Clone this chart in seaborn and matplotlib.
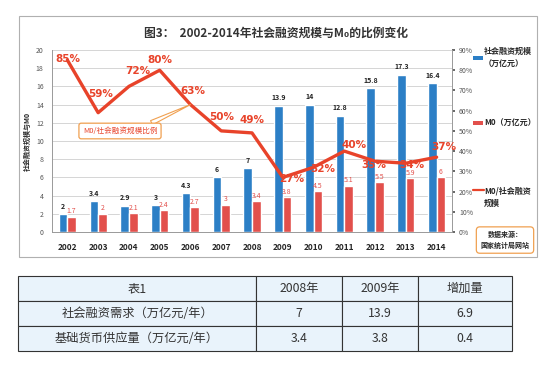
import numpy as np
import pandas as pd
import seaborn as sns
import matplotlib.pyplot as plt
from matplotlib.patches import Rectangle

years = ["2002", "2003", "2004", "2005", "2006", "2007", "2008",
         "2009", "2010", "2011", "2012", "2013", "2014"]
financing = [2, 3.4, 2.9, 3, 4.3, 6, 7, 13.9, 14, 12.8, 15.8, 17.3, 16.4]
m0 = [1.7, 2, 2.1, 2.4, 2.7, 3, 3.4, 3.8, 4.5, 5.1, 5.5, 5.9, 6]
ratio = [85, 59, 72, 80, 63, 50, 49, 27, 32, 40, 35, 34, 37]

series_names = ["社会融资规模（万亿元）", "M0（万亿元）"]
table_header = ["表1", "2008年", "2009年", "增加量"]
table_rows = [["社会融资需求（万亿元/年）", "7", "13.9", "6.9"],
              ["基础货币供应量（万亿元/年）", "3.4", "3.8", "0.4"]]

BLUE = "#2c7fc6"
RED = "#e2504c"
LINE = "#e8432a"
ORANGE = "#f0a050"

sns.set_theme(style="white")
plt.rcParams["font.family"] = ["Noto Sans CJK SC", "DejaVu Sans"]

W, H = 550, 372
fig = plt.figure(figsize=(5.5, 3.72), dpi=100)


def fx(px):
    return px / W


def fy(py):
    return 1 - py / H


# outer frame of the chart picture
fig.patches.append(Rectangle((fx(19), fy(257)), fx(537) - fx(19), fy(16) - fy(257),
                             transform=fig.transFigure, fill=False, ec="#b0b0b0", lw=0.8))

ax = fig.add_axes([fx(52), fy(232), fx(452) - fx(52), fy(50) - fy(232)])

df = pd.DataFrame({
    "year": years * 2,
    "value": financing + m0,
    "series": [series_names[0]] * len(years) + [series_names[1]] * len(years),
})
sns.barplot(data=df, x="year", y="value", hue="series", palette=[BLUE, RED],
            width=0.56, saturation=1, ax=ax, legend=False)

ax.bar_label(ax.containers[0], labels=[f"{v:g}" for v in financing], padding=3,
             fontsize=5, fontweight="bold", color="#222222")
ax.bar_label(ax.containers[1], labels=[f"{v:g}" for v in m0], padding=1,
             fontsize=5, color=RED)

ax.set_ylim(0, 20)
ax.set_yticks(np.arange(0, 21, 2))
ax.set_xlim(-0.5, len(years) - 0.5)
ax.set_xlabel("")
ax.set_ylabel("")
ax.yaxis.grid(True, color="#cfcfcf", lw=0.6)
ax.set_axisbelow(True)
ax.tick_params(axis="y", labelsize=5, colors="#555555", length=0, pad=6)
ax.tick_params(axis="x", labelsize=6, length=0, pad=8)
for lab in ax.get_xticklabels():
    lab.set_fontweight("bold")
for s in ["left", "bottom"]:
    ax.spines[s].set_color("#999999")
    ax.spines[s].set_linewidth(0.7)
ax.spines["top"].set_visible(False)
ax.spines["right"].set_visible(False)

ax2 = ax.twinx()
x_idx = np.arange(len(years))
sns.lineplot(x=x_idx, y=[r / 100 for r in ratio], ax=ax2, color=LINE, lw=2.4)
ax2.set_ylim(0, 0.9)
ax2.set_xlim(-0.5, len(years) - 0.5)
ax2.set_yticks(np.arange(0, 0.91, 0.1))
ax2.set_yticklabels([f"{int(round(t * 100))}%" for t in np.arange(0, 0.91, 0.1)])
ax2.tick_params(axis="y", labelsize=5, colors="#555555", length=2, pad=3)
ax2.set_ylabel("")
ax2.grid(False)
for s in ["left", "top", "bottom"]:
    ax2.spines[s].set_visible(False)
ax2.spines["right"].set_color("#999999")
ax2.spines["right"].set_linewidth(0.7)

# percent labels (pixel offsets from each point)
offsets = [(0, 1), (2, 19), (9, 15), (0, 10), (2, 14), (0, 14), (0, 13),
           (9, -2), (9, -2), (10, 6), (-1, -4), (6, -2), (7, 10)]
for i, r in enumerate(ratio):
    ax2.annotate(f"{r}%", (i, r / 100), xytext=offsets[i], textcoords="offset pixels",
                 ha="center", va="center", fontsize=7.5, fontweight="bold", color=LINE,
                 family="DejaVu Sans")

# callout
ax2.annotate("M0/社会融资规模比例", xy=(4, 0.63), xytext=(fx(120), fy(131)),
             textcoords="figure fraction", ha="center", va="center",
             fontsize=5.5, color=LINE,
             bbox=dict(boxstyle="round,pad=0.5,rounding_size=0.3", fc="white", ec=ORANGE, lw=0.9),
             arrowprops=dict(arrowstyle="wedge,tail_width=0.6", fc="white", ec=ORANGE, lw=0.8,
                             shrinkA=0, shrinkB=0, relpos=(0.8, 1)))

# left y label
fig.text(fx(27), fy(141), "社会融资规模与M0", rotation=90, ha="center", va="center",
         fontsize=5, fontweight="bold")

# title
fig.text(fx(276), fy(33), "图3：  2002-2014年社会融资规模与M₀的比例变化", ha="center", va="center",
         fontsize=8.5, fontweight="bold", color="#333333")

# legend
fig.patches.append(Rectangle((fx(473), fy(60)), fx(10), 4 / H, transform=fig.transFigure,
                             fc=BLUE, ec="none"))
fig.text(fx(484), fy(58), "社会融资规模\n（万亿元）", ha="left", va="center",
         fontsize=5.8, fontweight="bold", linespacing=1.5)
fig.patches.append(Rectangle((fx(473), fy(125)), fx(10), 4 / H, transform=fig.transFigure,
                             fc=RED, ec="none"))
fig.text(fx(484), fy(123), "M0（万亿元）", ha="left", va="center", fontsize=5.8, fontweight="bold")
fig.lines.append(plt.Line2D([fx(473), fx(484)], [fy(190), fy(190)], transform=fig.transFigure,
                            color=LINE, lw=1.6))
fig.text(fx(484), fy(197), "M0/社会融资\n规模", ha="left", va="center",
         fontsize=5.8, fontweight="bold", linespacing=1.5)

# data source box
fig.text(fx(505), fy(240), "数据来源：\n国家统计局网站", ha="center", va="center",
         fontsize=5, fontweight="bold", linespacing=1.6,
         bbox=dict(boxstyle="round,pad=0.6,rounding_size=0.5", fc="white", ec=ORANGE, lw=0.9))

# table
tax = fig.add_axes([fx(18), fy(351), fx(512) - fx(18), fy(276) - fy(351)])
tax.axis("off")
cells = [table_header] + table_rows
col_w = np.array([238, 86, 76, 94]) / 494
tbl = tax.table(cellText=cells, colWidths=col_w, cellLoc="center", loc="center",
                bbox=[0, 0, 1, 1])
tbl.auto_set_font_size(False)
for (r, c), cell in tbl.get_celld().items():
    cell.set_facecolor("#e9f3fb")
    cell.set_edgecolor("#333333")
    cell.set_linewidth(0.8)
    cell.get_text().set_fontsize(8.8)
    cell.get_text().set_color("#333333")

fig.savefig("out.png", dpi=100)
